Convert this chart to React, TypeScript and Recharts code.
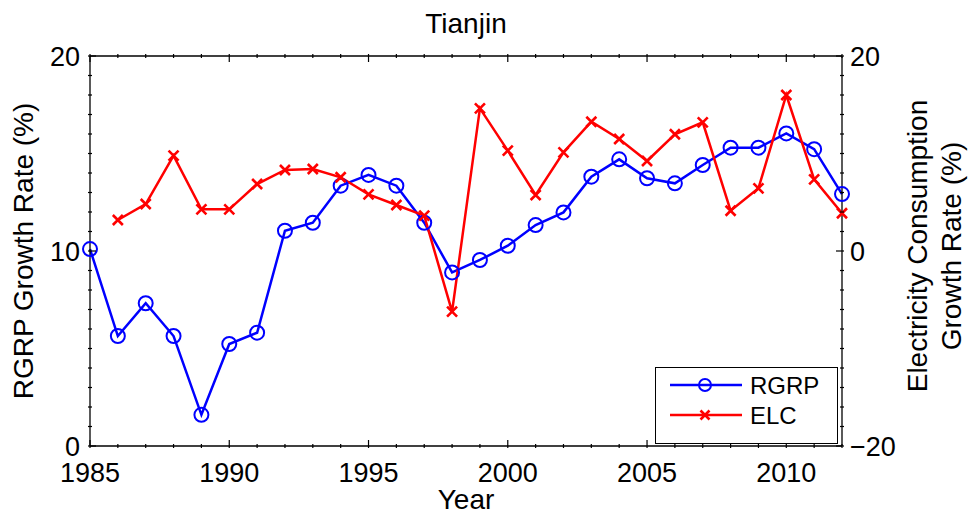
import React from 'react';
import { LineChart, Line, XAxis, YAxis, Legend, Label } from 'recharts';

const years = [
  1985, 1986, 1987, 1988, 1989, 1990, 1991, 1992, 1993, 1994,
  1995, 1996, 1997, 1998, 1999, 2000, 2001, 2002, 2003, 2004,
  2005, 2006, 2007, 2008, 2009, 2010, 2011, 2012,
];

// regional GDP growth (%), left axis
const rgrp = [
  10.1, 5.64, 7.32, 5.64, 1.6, 5.23, 5.81, 11.04, 11.45, 13.35,
  13.9, 13.35, 11.45, 8.9, 9.54, 10.27, 11.33, 11.98, 13.81, 14.7,
  13.73, 13.47, 14.41, 15.3, 15.3, 16.03, 15.22, 12.92,
];

// electricity consumption growth (%), right axis; no value for 1985
const elc = [
  null, 3.18, 4.82, 9.78, 4.27, 4.27, 6.87, 8.31, 8.41, 7.56,
  5.81, 4.72, 3.62, -6.22, 14.63, 10.29, 5.74, 10.12, 13.26, 11.49,
  9.23, 11.97, 13.2, 4.13, 6.43, 16.0, 7.35, 3.87,
];

const xTicks = years;
const xLabelled = [1985, 1990, 1995, 2000, 2005, 2010];
const leftTicks = [0, 1, 2, 3, 4, 5, 6, 7, 8, 9, 10, 11, 12, 13, 14, 15, 16, 17, 18, 19, 20];
const leftLabelled = [0, 10, 20];
const rightTicks = [-20, -18, -16, -14, -12, -10, -8, -6, -4, -2, 0, 2, 4, 6, 8, 10, 12, 14, 16, 18, 20];
const rightLabelled = [-20, 0, 20];
const legendOrder = ['rgrp', 'elc'];

const data = years.map((year, i) => ({ year, rgrp: rgrp[i], elc: elc[i] }));

const FONT = '"Liberation Sans", Arial, Helvetica, sans-serif';
const BLUE = '#0000ff';
const RED = '#ff0000';

const fmt = (v: number) => (v < 0 ? '\u2212' + Math.abs(v) : String(v));

const BottomTick = (props: any) => {
  const { x, y, payload } = props;
  const major = xLabelled.includes(payload.value);
  return (
    <g>
      <line x1={x} x2={x} y1={y} y2={y - (major ? 8 : 4)} stroke="#000" strokeWidth={1.2} />
      {major && (
        <text x={x} y={y + 34} textAnchor="middle" fontSize={27} fontFamily={FONT} fill="#000">
          {payload.value}
        </text>
      )}
    </g>
  );
};

const TopTick = (props: any) => {
  const { x, y, payload } = props;
  const major = xLabelled.includes(payload.value);
  return <line x1={x} x2={x} y1={y} y2={y + (major ? 8 : 4)} stroke="#000" strokeWidth={1.2} />;
};

const LeftTick = (props: any) => {
  const { x, y, payload } = props;
  const major = leftLabelled.includes(payload.value);
  return (
    <g>
      <line x1={x} x2={x + (major ? 8 : 4)} y1={y} y2={y} stroke="#000" strokeWidth={1.2} />
      {major && (
        <text x={x - 8} y={y} dy="0.36em" textAnchor="end" fontSize={27} fontFamily={FONT} fill="#000">
          {fmt(payload.value)}
        </text>
      )}
    </g>
  );
};

const RightTick = (props: any) => {
  const { x, y, payload } = props;
  const major = rightLabelled.includes(payload.value);
  return (
    <g>
      <line x1={x} x2={x - (major ? 8 : 4)} y1={y} y2={y} stroke="#000" strokeWidth={1.2} />
      {major && (
        <text x={x + 6} y={y} dy="0.36em" textAnchor="start" fontSize={27} fontFamily={FONT} fill="#000">
          {fmt(payload.value)}
        </text>
      )}
    </g>
  );
};

const Cross = ({ cx, cy, r, color }: { cx: number; cy: number; r: number; color: string }) => (
  <path
    d={`M${cx - r},${cy - r}L${cx + r},${cy + r}M${cx - r},${cy + r}L${cx + r},${cy - r}`}
    stroke={color}
    strokeWidth={2.6}
    fill="none"
  />
);

const CrossDot = (props: any) => {
  const { cx, cy, index, value } = props;
  if (cx == null || cy == null || value == null) return <g key={`x-${index}`} />;
  return <Cross key={`x-${index}`} cx={cx} cy={cy} r={5} color={RED} />;
};

const LegendBox = (props: any) => {
  const items = [...((props.payload || []) as any[])].sort(
    (a, b) => legendOrder.indexOf(a.dataKey) - legendOrder.indexOf(b.dataKey),
  );
  return (
    <div style={{ width: 183, height: 77, border: '1.2px solid #000', background: '#fff', boxSizing: 'border-box' }}>
      <svg width={181} height={75}>
        {items.map((item, i) => {
          const cy = 17 + i * 30;
          const key = item.dataKey;
          const color = key === 'rgrp' ? BLUE : RED;
          return (
            <g key={key}>
              <line x1={14} x2={86} y1={cy} y2={cy} stroke={color} strokeWidth={2.5} />
              {key === 'rgrp' ? (
                <circle cx={49} cy={cy} r={6} stroke={color} strokeWidth={2} fill="none" />
              ) : (
                <Cross cx={49} cy={cy} r={4.5} color={color} />
              )}
              <text x={94} y={cy} dy="0.36em" fontSize={24} fontFamily={FONT} fill="#000">
                {item.value}
              </text>
            </g>
          );
        })}
      </svg>
    </div>
  );
};

const TitleLabel = (props: any) => {
  const { x, width, y, height } = props.viewBox;
  return (
    <text x={x + width / 2} y={y + height - 23} textAnchor="middle" fontSize={28} fontFamily={FONT} fill="#000">
      Tianjin
    </text>
  );
};

const YearLabel = (props: any) => {
  const { x, width, y } = props.viewBox;
  return (
    <text x={x + width / 2} y={y + 63} textAnchor="middle" fontSize={28} fontFamily={FONT} fill="#000">
      Year
    </text>
  );
};

const LeftLabel = (props: any) => {
  const { y, height } = props.viewBox;
  const cy = y + height / 2;
  return (
    <text x={33} y={cy} transform={`rotate(-90, 33, ${cy})`} textAnchor="middle" fontSize={28} fontFamily={FONT} fill="#000">
      RGRP Growth Rate (%)
    </text>
  );
};

const RightLabel = (props: any) => {
  const { x, y, height } = props.viewBox;
  const cy = y + height / 2 - 5;
  const x1 = x + 85;
  const x2 = x + 119;
  return (
    <g fontSize={28} fontFamily={FONT} fill="#000" textAnchor="middle">
      <text x={x1} y={cy} transform={`rotate(-90, ${x1}, ${cy})`}>Electricity Consumption</text>
      <text x={x2} y={cy} transform={`rotate(-90, ${x2}, ${cy})`}>Growth Rate (%)</text>
    </g>
  );
};

export default function App() {
  return (
    <div style={{ position: 'absolute', left: 0, top: 0, background: '#fff', fontFamily: FONT }}>
      <LineChart width={968} height={518} data={data} margin={{ top: 0, right: 0, bottom: 0, left: 0 }}>
        <XAxis
          dataKey="year"
          type="number"
          domain={[1985, 2012]}
          ticks={xTicks}
          interval={0}
          height={72}
          tickSize={0}
          tickLine={false}
          tick={<BottomTick />}
          axisLine={{ stroke: '#000', strokeWidth: 1.3 }}
        >
          <Label content={<YearLabel />} />
        </XAxis>
        <XAxis
          xAxisId="top"
          dataKey="year"
          type="number"
          orientation="top"
          domain={[1985, 2012]}
          ticks={xTicks}
          interval={0}
          height={56}
          tickSize={0}
          tickLine={false}
          tick={<TopTick />}
          axisLine={{ stroke: '#000', strokeWidth: 1.3 }}
        >
          <Label content={<TitleLabel />} />
        </XAxis>
        <YAxis
          yAxisId="left"
          domain={[0, 20]}
          ticks={leftTicks}
          interval={0}
          width={90}
          tickSize={0}
          tickLine={false}
          tick={<LeftTick />}
          axisLine={{ stroke: '#000', strokeWidth: 1.3 }}
        >
          <Label content={<LeftLabel />} />
        </YAxis>
        <YAxis
          yAxisId="right"
          orientation="right"
          domain={[-20, 20]}
          ticks={rightTicks}
          interval={0}
          width={126}
          tickSize={0}
          tickLine={false}
          tick={<RightTick />}
          axisLine={{ stroke: '#000', strokeWidth: 1.3 }}
        >
          <Label content={<RightLabel />} />
        </YAxis>
        <Legend
          layout="vertical"
          align="center"
          verticalAlign="middle"
          content={<LegendBox />}
          wrapperStyle={{ left: 655, top: 367, width: 183, height: 77 }}
        />
        <Line
          yAxisId="left"
          dataKey="rgrp"
          name="RGRP"
          stroke={BLUE}
          strokeWidth={2.5}
          dot={{ r: 7, stroke: BLUE, strokeWidth: 2, fill: 'none' }}
          isAnimationActive={false}
        />
        <Line
          yAxisId="right"
          xAxisId="top"
          dataKey="elc"
          name="ELC"
          stroke={RED}
          strokeWidth={2.5}
          dot={<CrossDot />}
          isAnimationActive={false}
        />
      </LineChart>
    </div>
  );
}
